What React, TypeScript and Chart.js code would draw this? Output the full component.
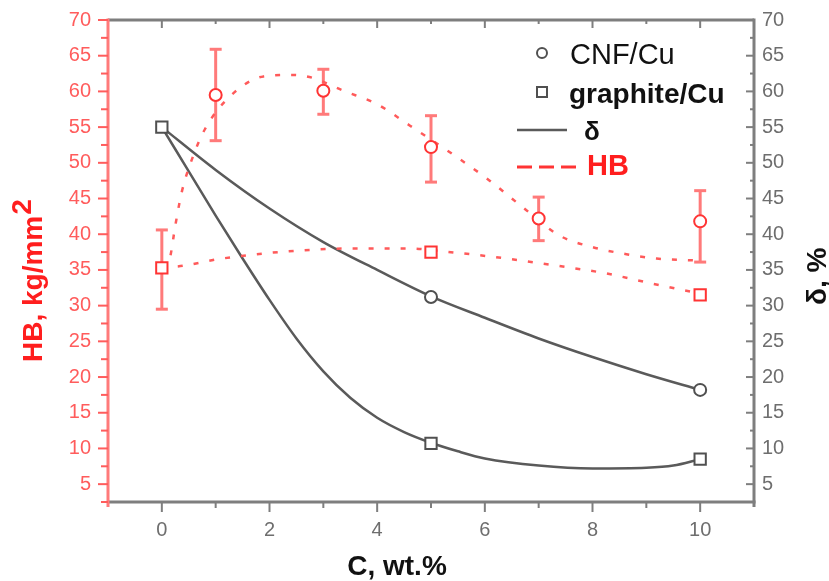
import React, { useEffect, useRef } from 'react';
import { Chart, registerables } from 'chart.js';

Chart.register(...registerables);

const FONT = '"Liberation Sans", Arial, sans-serif';
const RED = '#FF3434';
const RED_LIGHT = '#FF7A7A';
const RED_TICK = '#FF5C5C';
const DARK = '#505050';
const GRAY_AXIS = '#7E7E7E';
const GRAY_TEXT = '#6E6E6E';

// axis ticks
const xTicks = [0, 2, 4, 6, 8, 10];
const xMinorTicks = [1, 3, 5, 7, 9];
const yTicks = [5, 10, 15, 20, 25, 30, 35, 40, 45, 50, 55, 60, 65, 70];
const yMinorTicks = [7.5, 12.5, 17.5, 22.5, 27.5, 32.5, 37.5, 42.5, 47.5, 52.5, 57.5, 62.5, 67.5];

// HB (left axis) – CNF/Cu measured points with error bars
const hbCnfX = [1, 3, 5, 7, 10];
const hbCnfY = [59.5, 60.1, 52.2, 42.2, 41.8];
const hbCnfHigh = [65.9, 63.1, 56.6, 45.2, 46.1];
const hbCnfLow = [53.1, 56.8, 47.3, 39.1, 36.1];

// HB – graphite/Cu measured points
const hbGraphiteX = [0, 5, 10];
const hbGraphiteY = [35.3, 37.5, 31.5];
const hbGraphiteHigh = [40.6, null, null];
const hbGraphiteLow = [29.5, null, null];

// δ (right axis) measured points
const deltaCnfX = [5, 10];
const deltaCnfY = [31.2, 18.2];
const deltaGraphiteX = [0, 5, 10];
const deltaGraphiteY = [55.0, 10.7, 8.5];

// fitted curves
const hbCnfFitX = [0, 0.15, 0.25, 0.37, 0.55, 0.8, 1.28, 1.89, 2.45, 2.8, 3.37, 4.0, 4.61, 5.48, 6.09, 6.7, 7.39, 8.0, 8.63, 9.19, 10];
const hbCnfFitY = [35.3, 36.7, 41.2, 45.9, 50.3, 54.7, 59.4, 62.1, 62.3, 61.9, 60.1, 58.2, 55.2, 50.8, 47.5, 43.8, 39.8, 38.2, 37.2, 36.6, 36.3];

const hbGraphiteFitX = [0, 0.41, 1.04, 1.89, 2.52, 3.44, 4.55, 5.48, 6.4, 7.33, 8.26, 9.1, 10];
const hbGraphiteFitY = [35.3, 35.6, 36.5, 37.3, 37.7, 38.0, 38.0, 37.4, 36.6, 35.6, 34.5, 33.1, 31.7];

const deltaCnfFitX = [0, 1, 2, 3, 4, 5, 6, 7, 8, 9, 10];
const deltaCnfFitY = [55.0, 49.0, 43.6, 38.9, 35.0, 31.3, 28.3, 25.4, 22.8, 20.4, 18.2];

const deltaGraphiteFitX = [0, 0.5, 1, 1.5, 2, 2.5, 3, 3.5, 4, 4.5, 5, 5.5, 6, 7, 8, 9, 9.5, 10];
const deltaGraphiteFitY = [55.0, 48.8, 42.6, 36.6, 30.8, 25.4, 20.8, 17.1, 14.3, 12.3, 10.8, 9.6, 8.6, 7.6, 7.2, 7.3, 7.6, 8.5];

const zip = (xs: number[], ys: number[]) => xs.map((x, i) => ({ x, y: ys[i] }));

const line = (ctx: CanvasRenderingContext2D, x1: number, y1: number, x2: number, y2: number) => {
  ctx.beginPath();
  ctx.moveTo(x1, y1);
  ctx.lineTo(x2, y2);
  ctx.stroke();
};

const errorBarPlugin = {
  id: 'errorBars',
  beforeDatasetsDraw(chart: any) {
    const { ctx, scales } = chart;
    const xs = scales.x;
    const ys = scales.y;
    ctx.save();
    ctx.strokeStyle = RED_LIGHT;
    ctx.lineWidth = 3;
    const draw = (xv: number[], hi: (number | null)[], lo: (number | null)[]) => {
      xv.forEach((v, i) => {
        const h = hi[i];
        const l = lo[i];
        if (h == null || l == null) return;
        const px = xs.getPixelForValue(v);
        const ph = ys.getPixelForValue(h);
        const pl = ys.getPixelForValue(l);
        line(ctx, px, ph, px, pl);
        line(ctx, px - 6, ph, px + 6, ph);
        line(ctx, px - 6, pl, px + 6, pl);
      });
    };
    draw(hbCnfX, hbCnfHigh, hbCnfLow);
    draw(hbGraphiteX, hbGraphiteHigh, hbGraphiteLow);
    ctx.restore();
  },
};

const framePlugin = {
  id: 'frame',
  afterDatasetsDraw(chart: any) {
    const { ctx, chartArea: a, scales } = chart;
    const xs = scales.x;
    const ys = scales.y;
    ctx.save();
    ctx.lineCap = 'butt';
    ctx.strokeStyle = GRAY_AXIS;
    ctx.lineWidth = 3;
    line(ctx, a.left, a.top, a.right, a.top);
    line(ctx, a.left, a.bottom, a.right + 1.5, a.bottom);
    line(ctx, a.right, a.top - 1.5, a.right, a.bottom + 5);
    ctx.lineWidth = 2;
    xTicks.forEach((v) => {
      const p = xs.getPixelForValue(v);
      line(ctx, p, a.bottom, p, a.bottom + 10);
      line(ctx, p, a.top, p, a.top + 8);
    });
    xMinorTicks.forEach((v) => {
      const p = xs.getPixelForValue(v);
      line(ctx, p, a.bottom, p, a.bottom + 6);
      line(ctx, p, a.top, p, a.top + 4);
    });
    yTicks.forEach((v) => {
      const p = ys.getPixelForValue(v);
      line(ctx, a.right - 8, p, a.right, p);
    });
    yMinorTicks.forEach((v) => {
      const p = ys.getPixelForValue(v);
      line(ctx, a.right - 4, p, a.right, p);
    });
    ctx.strokeStyle = RED_LIGHT;
    ctx.lineWidth = 3;
    line(ctx, a.left, a.top - 1.5, a.left, a.bottom + 5);
    ctx.strokeStyle = RED_TICK;
    ctx.lineWidth = 2;
    yTicks.forEach((v) => {
      const p = ys.getPixelForValue(v);
      line(ctx, a.left - 10, p, a.left, p);
    });
    yMinorTicks.concat([2.5]).forEach((v) => {
      const p = ys.getPixelForValue(v);
      line(ctx, a.left - 7, p, a.left, p);
    });
    ctx.restore();
  },
};

const titlePlugin = {
  id: 'titles',
  afterDraw(chart: any) {
    const { ctx } = chart;
    ctx.save();
    ctx.fillStyle = '#FF1E1E';
    ctx.font = `bold 28px ${FONT}`;
    ctx.textAlign = 'left';
    ctx.textBaseline = 'alphabetic';
    ctx.translate(42, 362);
    ctx.rotate(-Math.PI / 2);
    const main = 'HB, kg/mm';
    ctx.fillText(main, 0, 0);
    const w = ctx.measureText(main).width;
    ctx.fillText('2', w + 1, -11);
    ctx.restore();

    ctx.save();
    ctx.fillStyle = '#111';
    ctx.font = `bold 28px ${FONT}`;
    ctx.textAlign = 'left';
    ctx.textBaseline = 'alphabetic';
    ctx.translate(826, 305);
    ctx.rotate(-Math.PI / 2);
    ctx.fillText('δ, %', 0, 0);
    ctx.restore();

    ctx.save();
    ctx.fillStyle = '#111';
    ctx.font = `bold 28px ${FONT}`;
    ctx.textAlign = 'center';
    ctx.textBaseline = 'alphabetic';
    ctx.fillText('C, wt.%', 397, 575);
    ctx.restore();
  },
};

const legendPlugin = {
  id: 'customLegend',
  afterDraw(chart: any) {
    const { ctx } = chart;
    ctx.save();
    ctx.lineWidth = 2;
    ctx.strokeStyle = DARK;
    ctx.fillStyle = '#fff';
    ctx.beginPath();
    ctx.arc(542, 53, 5, 0, Math.PI * 2);
    ctx.fill();
    ctx.stroke();
    ctx.beginPath();
    ctx.rect(537, 87, 10, 10);
    ctx.fill();
    ctx.stroke();
    ctx.lineWidth = 2.5;
    ctx.strokeStyle = '#5a5a5a';
    line(ctx, 517, 130, 567, 130);
    ctx.strokeStyle = RED;
    ctx.lineWidth = 3;
    ctx.setLineDash([15, 7]);
    line(ctx, 517, 167, 577, 167);
    ctx.setLineDash([]);

    ctx.textAlign = 'left';
    ctx.textBaseline = 'alphabetic';
    ctx.fillStyle = '#111';
    ctx.font = `29px ${FONT}`;
    ctx.fillText('CNF/Cu', 570, 64);
    ctx.font = `bold 28px ${FONT}`;
    ctx.fillText('graphite/Cu', 569, 103);
    ctx.font = `bold 26px ${FONT}`;
    ctx.fillText('δ', 584, 140);
    ctx.fillStyle = '#FF1E1E';
    ctx.font = `bold 29px ${FONT}`;
    ctx.fillText('HB', 587, 175);
    ctx.restore();
  },
};

export default function App() {
  const ref = useRef<HTMLCanvasElement | null>(null);

  useEffect(() => {
    if (!ref.current) return;
    const markerBase = { showLine: false, pointBackgroundColor: '#ffffff', pointBorderWidth: 2 };
    const fitBase = { showLine: true, pointRadius: 0, cubicInterpolationMode: 'monotone' as const, fill: false };
    const chart = new Chart(ref.current, {
      type: 'scatter',
      data: {
        datasets: [
          { ...markerBase, label: 'HB CNF/Cu', data: zip(hbCnfX, hbCnfY), yAxisID: 'y', pointStyle: 'circle', pointRadius: 6, pointBorderColor: RED, borderColor: RED },
          { ...markerBase, label: 'HB graphite/Cu', data: zip(hbGraphiteX, hbGraphiteY), yAxisID: 'y', pointStyle: 'rect', pointRadius: 8, pointBorderColor: RED, borderColor: RED },
          { ...markerBase, label: 'δ CNF/Cu', data: zip(deltaCnfX, deltaCnfY), yAxisID: 'y2', pointStyle: 'circle', pointRadius: 6, pointBorderColor: DARK, borderColor: DARK },
          { ...markerBase, label: 'δ graphite/Cu', data: zip(deltaGraphiteX, deltaGraphiteY), yAxisID: 'y2', pointStyle: 'rect', pointRadius: 8, pointBorderColor: DARK, borderColor: DARK },
          { ...fitBase, label: 'HB fit CNF', data: zip(hbCnfFitX, hbCnfFitY), yAxisID: 'y', borderColor: '#FF5A5A', borderWidth: 2.5, borderDash: [5, 11] },
          { ...fitBase, label: 'HB fit graphite', data: zip(hbGraphiteFitX, hbGraphiteFitY), yAxisID: 'y', borderColor: '#FF5A5A', borderWidth: 2.5, borderDash: [5, 11] },
          { ...fitBase, label: 'δ fit CNF', data: zip(deltaCnfFitX, deltaCnfFitY), yAxisID: 'y2', borderColor: '#5a5a5a', borderWidth: 2.5 },
          { ...fitBase, label: 'δ fit graphite', data: zip(deltaGraphiteFitX, deltaGraphiteFitY), yAxisID: 'y2', borderColor: '#5a5a5a', borderWidth: 2.5 },
        ],
      },
      options: {
        animation: false,
        responsive: false,
        devicePixelRatio: 1,
        layout: { padding: { top: 19, left: 0, right: 0, bottom: 0 } },
        plugins: { legend: { display: false }, tooltip: { enabled: false }, title: { display: false } },
        elements: { line: { tension: 0.4 } },
        scales: {
          x: {
            type: 'linear',
            position: 'bottom',
            min: -1,
            max: 11,
            afterBuildTicks: (s: any) => { s.ticks = xTicks.map((v) => ({ value: v })); },
            afterFit: (s: any) => { s.height = 79; },
            grid: { display: false, drawTicks: true, tickLength: 10 },
            border: { display: false },
            ticks: { padding: 6, color: GRAY_TEXT, font: { family: FONT, size: 20 }, maxRotation: 0, autoSkip: false },
          },
          y: {
            type: 'linear',
            position: 'left',
            min: 2.5,
            max: 70,
            afterBuildTicks: (s: any) => { s.ticks = yTicks.map((v) => ({ value: v })); },
            afterFit: (s: any) => { s.width = 108; },
            grid: { display: false, drawTicks: true, tickLength: 10 },
            border: { display: false },
            ticks: { padding: 7, color: RED_TICK, font: { family: FONT, size: 20 }, autoSkip: false },
          },
          y2: {
            type: 'linear',
            position: 'right',
            min: 2.5,
            max: 70,
            afterBuildTicks: (s: any) => { s.ticks = yTicks.map((v) => ({ value: v })); },
            afterFit: (s: any) => { s.width = 75; },
            grid: { display: false, drawTicks: false },
            border: { display: false },
            ticks: { padding: 8, color: GRAY_TEXT, font: { family: FONT, size: 20 }, autoSkip: false },
          },
        },
      },
      plugins: [errorBarPlugin, framePlugin, titlePlugin, legendPlugin],
    });
    return () => chart.destroy();
  }, []);

  return (
    <div style={{ position: 'absolute', left: 0, top: 0, width: 829, height: 581, background: '#fff' }}>
      <canvas ref={ref} width={829} height={581} style={{ display: 'block' }} />
    </div>
  );
}
